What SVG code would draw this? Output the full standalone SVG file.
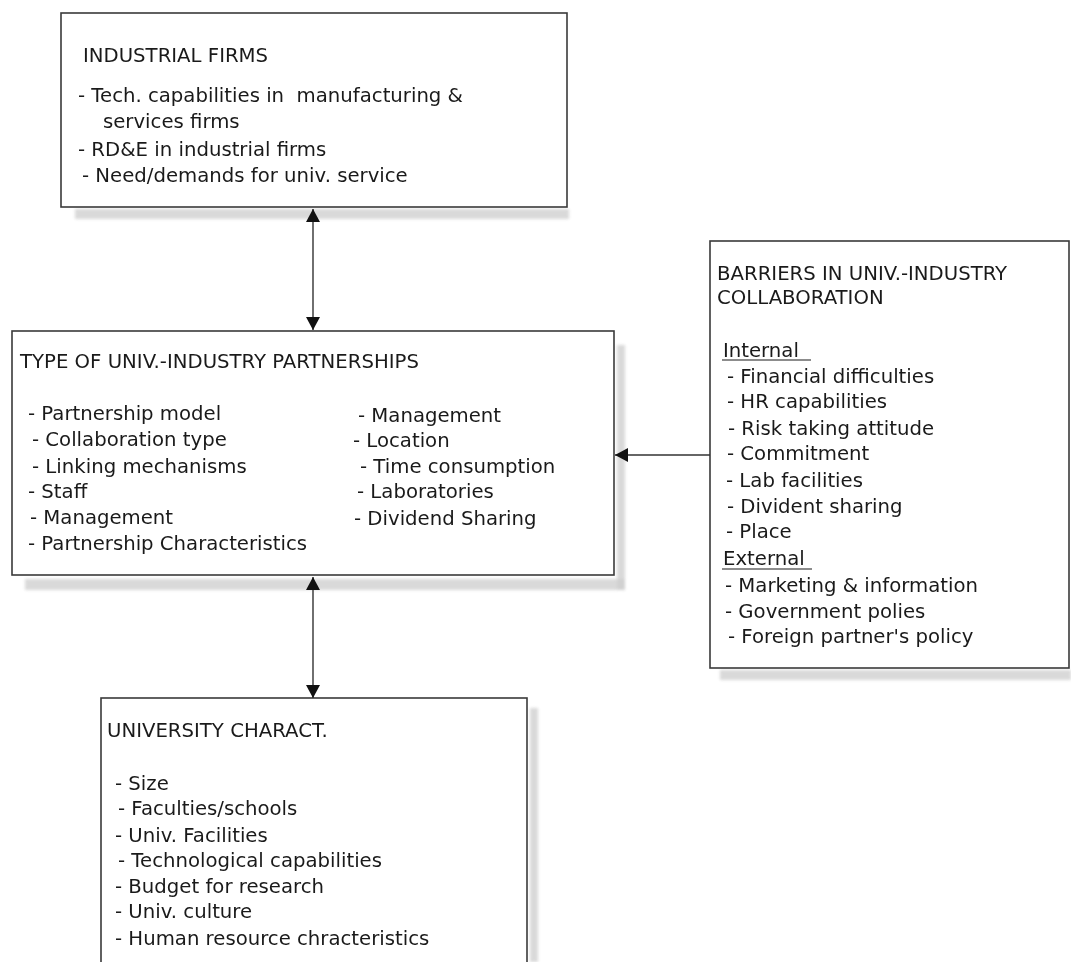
<svg xmlns="http://www.w3.org/2000/svg" width="1071" height="962" viewBox="0 0 1071 962">
<style>
  .box { fill: #ffffff; stroke: #3a3a3a; stroke-width: 1.6; }
  .shadow { fill: #d0d0d0; opacity: 0.8; }
  .t { font-family: "DejaVu Sans", Verdana, sans-serif; font-size: 19.7px; fill: #1a1a1a; }
  .conn { stroke: #333333; stroke-width: 1.4; fill: none; }
  .ul { stroke: #1a1a1a; stroke-width: 1.2; }
</style>
<defs>
  <marker id="ah" viewBox="0 0 13 14" refX="13" refY="7" markerWidth="13" markerHeight="14" markerUnits="userSpaceOnUse" orient="auto-start-reverse">
    <path d="M0,0 L13,7 L0,14 z" fill="#111111"/>
  </marker>
  <filter id="blur" x="-10%" y="-10%" width="120%" height="120%"><feGaussianBlur stdDeviation="1.5"/></filter>
</defs>
<rect width="1071" height="962" fill="#ffffff"/>

<g id="shadows" filter="url(#blur)">
  <rect class="shadow" x="75" y="209" width="494" height="10"/>
  <rect class="shadow" x="617" y="345" width="8" height="245"/>
  <rect class="shadow" x="25" y="579" width="600" height="11"/>
  <rect class="shadow" x="720" y="670" width="351" height="10"/>
  <rect class="shadow" x="530" y="708" width="8" height="254"/>
</g>

<g id="industrial-firms">
  <rect class="box" x="61" y="13" width="506" height="194"/>
  <text class="t" x="83" y="62">INDUSTRIAL FIRMS</text>
  <text class="t" x="78" y="102" xml:space="preserve">- Tech. capabilities in  manufacturing &amp;</text>
  <text class="t" x="103" y="128">services firms</text>
  <text class="t" x="78" y="156">- RD&amp;E in industrial firms</text>
  <text class="t" x="82" y="182">- Need/demands for univ. service</text>
</g>

<g id="partnerships">
  <rect class="box" x="12" y="331" width="602" height="244"/>
  <text class="t" x="20" y="368">TYPE OF UNIV.-INDUSTRY PARTNERSHIPS</text>
  <text class="t" x="28" y="420">- Partnership model</text>
  <text class="t" x="32" y="446">- Collaboration type</text>
  <text class="t" x="32" y="473">- Linking mechanisms</text>
  <text class="t" x="28" y="498">- Staff</text>
  <text class="t" x="30" y="524">- Management</text>
  <text class="t" x="28" y="550">- Partnership Characteristics</text>
  <text class="t" x="358" y="422">- Management</text>
  <text class="t" x="353" y="447">- Location</text>
  <text class="t" x="360" y="473">- Time consumption</text>
  <text class="t" x="357" y="498">- Laboratories</text>
  <text class="t" x="354" y="525">- Dividend Sharing</text>
</g>

<g id="barriers">
  <rect class="box" x="710" y="241" width="359" height="427"/>
  <text class="t" x="717" y="280">BARRIERS IN UNIV.-INDUSTRY</text>
  <text class="t" x="717" y="304">COLLABORATION</text>
  <text class="t" x="723" y="357">Internal</text>
  <line class="ul" x1="722" y1="360" x2="811" y2="360"/>
  <text class="t" x="727" y="383">- Financial difficulties</text>
  <text class="t" x="727" y="408">- HR capabilities</text>
  <text class="t" x="728" y="435">- Risk taking attitude</text>
  <text class="t" x="727" y="460">- Commitment</text>
  <text class="t" x="726" y="487">- Lab facilities</text>
  <text class="t" x="727" y="513">- Divident sharing</text>
  <text class="t" x="726" y="538">- Place</text>
  <text class="t" x="723" y="565">External</text>
  <line class="ul" x1="722" y1="569" x2="812" y2="569"/>
  <text class="t" x="725" y="592">- Marketing &amp; information</text>
  <text class="t" x="725" y="618">- Government polies</text>
  <text class="t" x="728" y="643">- Foreign partner's policy</text>
</g>

<g id="university">
  <rect class="box" x="101" y="698" width="426" height="280"/>
  <text class="t" x="107" y="737">UNIVERSITY CHARACT.</text>
  <text class="t" x="115" y="790">- Size</text>
  <text class="t" x="118" y="815">- Faculties/schools</text>
  <text class="t" x="115" y="842">- Univ. Facilities</text>
  <text class="t" x="118" y="867">- Technological capabilities</text>
  <text class="t" x="115" y="893">- Budget for research</text>
  <text class="t" x="115" y="918">- Univ. culture</text>
  <text class="t" x="115" y="945">- Human resource chracteristics</text>
</g>

<g id="connectors">
  <line class="conn" x1="313" y1="209" x2="313" y2="330" marker-start="url(#ah)" marker-end="url(#ah)"/>
  <line class="conn" x1="710" y1="455" x2="615" y2="455" marker-end="url(#ah)"/>
  <line class="conn" x1="313" y1="577" x2="313" y2="698" marker-start="url(#ah)" marker-end="url(#ah)"/>
</g>
</svg>
